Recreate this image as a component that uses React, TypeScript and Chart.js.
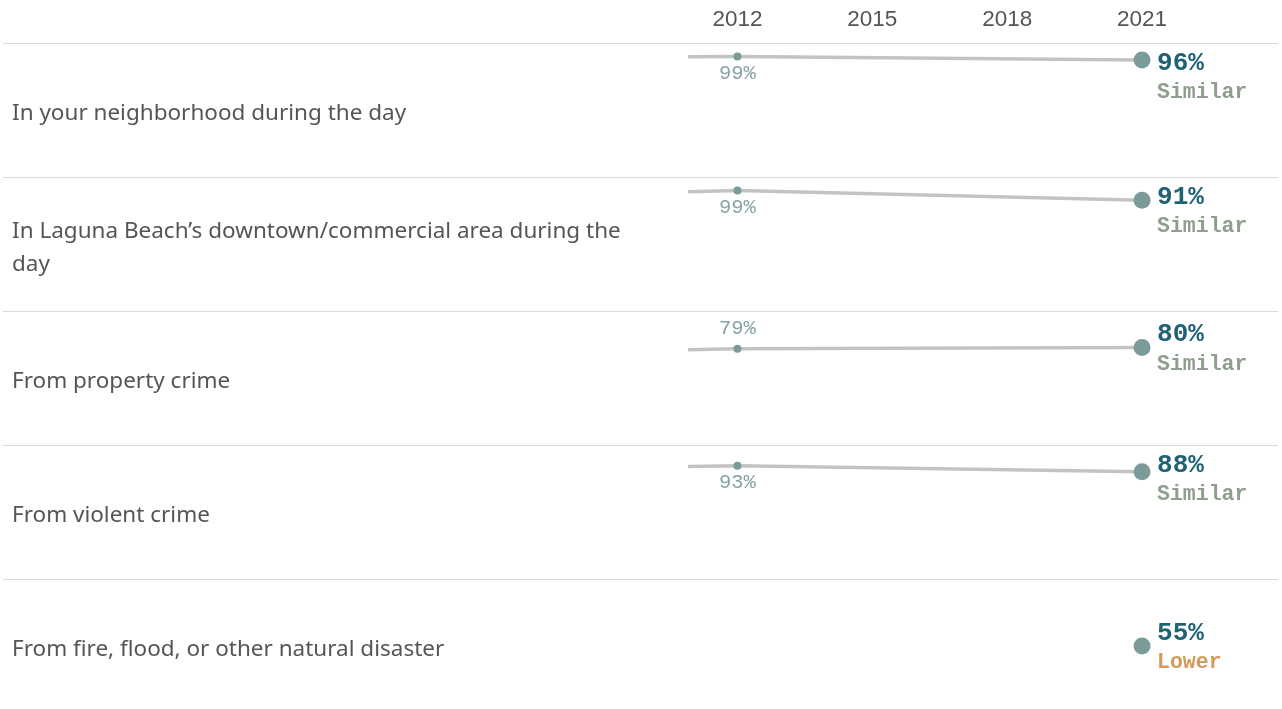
import React, { useEffect, useRef } from 'react';
import { Chart, registerables } from 'chart.js';

Chart.register(...registerables);

const categories = [
  'In your neighborhood during the day',
  'In Laguna Beach\u2019s downtown/commercial area during the day',
  'From property crime',
  'From violent crime',
  'From fire, flood, or other natural disaster',
];
const surveyYears = [2010, 2012, 2021];
const earlyValues: (number | null)[] = [98.5, 97, 77.5, 92, null];
const values2012: (number | null)[] = [99, 99, 79, 93, null];
const values2021: number[] = [96, 91, 80, 88, 55];
const comparisons = ['Similar', 'Similar', 'Similar', 'Similar', 'Lower'];
const yearTicks = [2012, 2015, 2018, 2021];

const COLORS = {
  line: '#c3c3c3',
  point: '#7b9b9b',
  sep: '#d9d9d9',
  axisText: '#555555',
  rowText: '#555555',
  value: '#1f6276',
  startLabel: '#86a4a4',
  Similar: '#8f9e8e',
  Lower: '#d39a5b',
};

function wrapText(ctx: CanvasRenderingContext2D, text: string, maxWidth: number): string[] {
  const words = text.split(' ');
  const lines: string[] = [];
  let cur = '';
  for (const w of words) {
    const test = cur ? cur + ' ' + w : w;
    if (ctx.measureText(test).width > maxWidth && cur) {
      lines.push(cur);
      cur = w;
    } else {
      cur = test;
    }
  }
  if (cur) lines.push(cur);
  return lines;
}

export default function App() {
  const ref = useRef<HTMLCanvasElement>(null);

  useEffect(() => {
    const canvas = ref.current;
    if (!canvas) return;
    const rowIds = categories.map((_, i) => 'y' + i);

    const datasets = categories.map((c, i) => {
      const series = [earlyValues[i], values2012[i], values2021[i]];
      const data = surveyYears
        .map((yr, j) => ({ x: yr, y: series[j] }))
        .filter((p) => p.y !== null);
      return {
        label: c,
        data,
        xAxisID: 'x',
        yAxisID: rowIds[i],
        borderColor: COLORS.line,
        borderWidth: 3.5,
        pointBackgroundColor: COLORS.point,
        pointBorderWidth: 0,
        pointHoverRadius: 0,
        pointRadius: (ctx: any) => {
          const x = ctx.raw ? ctx.raw.x : 0;
          if (x === 2021) return 8.5;
          if (x === 2012) return 4;
          return 0;
        },
        tension: 0,
      };
    });

    const scales: any = {
      x: { type: 'linear', display: false, min: 2010.9, max: 2022 },
    };
    for (let i = rowIds.length - 1; i >= 0; i--) {
      scales[rowIds[i]] = {
        type: 'linear',
        position: 'left',
        stack: 'rows',
        stackWeight: 1,
        min: 0,
        max: 110,
        display: true,
        ticks: { display: false },
        grid: { display: false, drawTicks: false },
        border: { display: false },
      };
    }

    const textPlugin = {
      id: 'rowText',
      beforeDatasetsDraw(chart: any) {
        const ctx: CanvasRenderingContext2D = chart.ctx;
        ctx.save();
        ctx.strokeStyle = COLORS.sep;
        ctx.lineWidth = 1;
        rowIds.forEach((id) => {
          const s = chart.scales[id];
          const y = Math.round(s.top) + 0.5;
          ctx.beginPath();
          ctx.moveTo(3, y);
          ctx.lineTo(1278, y);
          ctx.stroke();
        });
        ctx.restore();
      },
      afterDatasetsDraw(chart: any) {
        const ctx: CanvasRenderingContext2D = chart.ctx;
        const xs = chart.scales.x;
        ctx.save();
        // year labels
        ctx.fillStyle = COLORS.axisText;
        ctx.font = '22.5px "Liberation Sans", Arial, sans-serif';
        ctx.textAlign = 'center';
        ctx.textBaseline = 'middle';
        yearTicks.forEach((yr) => {
          ctx.fillText(String(yr), xs.getPixelForValue(yr), 20);
        });

        categories.forEach((cat, i) => {
          const s = chart.scales[rowIds[i]];
          const top = s.top;
          const mid = (s.top + s.bottom) / 2;
          // row label
          ctx.font = '22.5px "Noto Sans", sans-serif';
          ctx.fillStyle = COLORS.rowText;
          ctx.textAlign = 'left';
          ctx.textBaseline = 'middle';
          const lines = wrapText(ctx, cat, 640);
          const lh = 33;
          const startY = mid + 4 - ((lines.length - 1) * lh) / 2;
          lines.forEach((ln, k) => ctx.fillText(ln, 12, startY + k * lh));

          // end value label
          const endV = values2021[i];
          const px = xs.getPixelForValue(2021);
          const py = s.getPixelForValue(endV);
          const valY = Math.max(py - 13, top + 20);
          ctx.font = 'bold 26px "Liberation Mono", "Courier New", monospace';
          ctx.fillStyle = COLORS.value;
          ctx.fillText(endV + '%', px + 15, valY);
          ctx.font = 'bold 21.5px "Liberation Mono", "Courier New", monospace';
          ctx.fillStyle = (COLORS as any)[comparisons[i]];
          ctx.fillText(comparisons[i], px + 15, valY + 30);

          // 2012 label
          const v12 = values2012[i];
          if (v12 !== null) {
            const sx = xs.getPixelForValue(2012);
            const sy = s.getPixelForValue(v12);
            const above = endV > v12;
            ctx.font = '20.5px "Liberation Mono", "Courier New", monospace';
            ctx.fillStyle = COLORS.startLabel;
            ctx.textAlign = 'center';
            ctx.fillText(v12 + '%', sx, above ? sy - 20 : sy + 17);
          }
        });
        ctx.restore();
      },
    };

    const chart = new Chart(canvas, {
      type: 'line',
      data: { datasets: datasets as any },
      options: {
        responsive: false,
        animation: false,
        devicePixelRatio: 1,
        layout: { autoPadding: false, padding: { left: 688, right: 95, top: 43, bottom: 0 } },
        scales,
        plugins: {
          legend: { display: false },
          tooltip: { enabled: false },
        },
        events: [],
      },
      plugins: [textPlugin],
    });
    return () => chart.destroy();
  }, []);

  return (
    <div
      style={{
        position: 'fixed',
        left: 0,
        top: 0,
        width: 1282,
        height: 709,
        overflow: 'hidden',
        background: '#ffffff',
      }}
    >
      <canvas ref={ref} width={1282} height={713} style={{ display: 'block' }} />
    </div>
  );
}
